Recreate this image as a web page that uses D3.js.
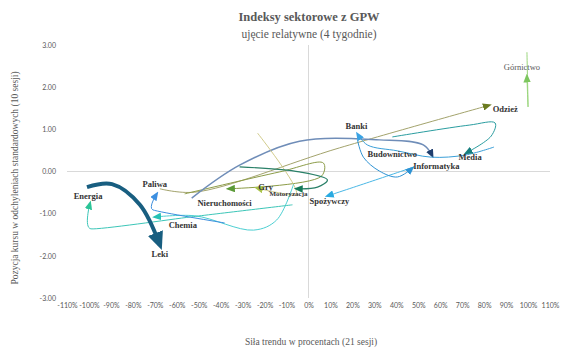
<!DOCTYPE html>
<html lang="pl">
<head>
<meta charset="UTF-8">
<title>Indeksy sektorowe z GPW</title>
<script src="https://d3js.org/d3.v7.min.js"></script>
<style>
  body { margin: 0; background: #fff; }
  svg text { font-family: "Liberation Serif", serif; }
</style>
</head>
<body>
<svg id="chart" width="564" height="352"></svg>
<script>
// sectors, in drawing order
const sectors = ["Odzież", "Nieruchomości", "Budownictwo", "Gry", "Motoryzacja", "Chemia", "Energia",
  "Paliwa", "Spożywczy", "Informatyka", "Banki", "Media", "Górnictwo", "Leki"];

// each point: [trend strength in %, position in std devs], oldest -> newest
const odziez = [[-67.7, -0.41], [-51.8, -0.49], [14.1, 0.56], [82.3, 1.57]];
const nieruchomosci = [[-56.4, -0.53], [-13.2, -0.01], [6.8, 0.20], [5.9, -0.11], [-36.4, -0.41]];
const budownictwo = [[-53.2, -0.63], [-31.4, 0.15], [-4.1, 0.72], [32.3, 0.75], [52.3, 0.63], [56.4, 0.37]];
const gry = [[-23.2, 0.91], [-5.5, -0.53], [-15.0, -0.49], [-23.6, -0.39]];
const motoryzacja = [[-31.4, 0.11], [-4.1, -0.01], [8.6, -0.20], [4.1, -0.37], [-5.5, -0.41]];
const chemia = [[-6.8, -0.30], [-14.5, -1.15], [-25.0, -1.39], [-51.8, -1.05], [-70.0, -1.08]];
const energia = [[-7.3, -0.79], [-54.1, -1.08], [-99.1, -1.36], [-99.5, -0.75]];
const paliwa = [[-38.2, -1.22], [-70.9, -0.91], [-69.1, -0.53]];
const spozywczy = [[48.2, 0.11], [27.7, -0.25], [8.6, -0.58]];
const informatyka = [[22.3, 0.75], [25.0, 0.34], [32.3, 0.01], [40.5, -0.13], [47.3, 0.08]];
const banki = [[84.5, 0.58], [71.4, 0.39], [55.9, 0.34], [40.5, 0.49], [26.8, 0.63], [22.3, 0.89]];
const media = [[38.2, 0.82], [73.2, 1.10], [85.0, 1.15], [83.2, 0.84], [71.8, 0.44]];
const gornictwo = [[99.5, 2.83], [100, 1.53], [99.5, 2.26]];
const leki = [[-100.9, -0.37], [-89.5, -0.30], [-76.8, -0.79], [-67.7, -1.74]];

const xTicks = d3.range(-110, 111, 10);
const yTicks = [-3, -2, -1, 0, 1, 2, 3];

const seriesPoints = [odziez, nieruchomosci, budownictwo, gry, motoryzacja, chemia, energia,
  paliwa, spozywczy, informatyka, banki, media, gornictwo, leki];

// styling
const lineColors = ["#a3a36c", "#8c9c48", "#6f8db8", "#d2cc8c", "#2a8068", "#4ccfd2", "#3cc6b8",
  "#3d8fde", "#4ab8e6", "#2f93d4", "#3a9fd8", "#2a9da0", "#9ad67c", "#185e80"];
const arrowColors = ["#6b7b20", "#5b9a37", "#1f3e6e", "#a9c34a", "#157a5a", "#26c2b5", "#2bc497",
  "#3d8fe0", "#29aae1", "#2f93d4", "#3aa3e4", "#177e7e", "#7dc65f", "#185e80"];
const lineWidths = [1, 1, 1.5, 1, 1.2, 1, 1, 1, 1, 1, 1, 1, 1, 4];
// series with tighter corners
const tightCurve = ["Energia", "Paliwa"];
// label centre relative to the last point
const labelOffsets = [[16, 4], [-4, 14], [-40, -2], [9, -1], [-8, 5], [28, 8], [-2, -7],
  [-2, -10], [2, 5], [24, -2], [-1, -8], [4, 4], [-5, -9], [0, 9]];

const svg = d3.select("#chart");
const x = d3.scaleLinear().domain([-110, 110]).range([67, 550]);
const y = d3.scaleLinear().domain([-3, 3]).range([298, 45]);

// titles
svg.append("text").attr("x", 309).attr("y", 21).attr("text-anchor", "middle")
  .attr("font-size", 12.5).attr("font-weight", "bold").attr("fill", "#595959")
  .text("Indeksy sektorowe z GPW");
svg.append("text").attr("x", 309).attr("y", 38).attr("text-anchor", "middle")
  .attr("font-size", 11.5).attr("fill", "#595959")
  .text("ujęcie relatywne (4 tygodnie)");

// zero lines
svg.append("line").attr("x1", x(-110)).attr("x2", x(110)).attr("y1", y(0)).attr("y2", y(0))
  .attr("stroke", "#d9d9d9").attr("stroke-width", 1);
svg.append("line").attr("x1", x(0)).attr("x2", x(0)).attr("y1", y(3)).attr("y2", y(-3))
  .attr("stroke", "#d9d9d9").attr("stroke-width", 1);

// axes (labels only)
const xAxis = svg.append("g").attr("transform", "translate(0,300)")
  .call(d3.axisBottom(x).tickValues(xTicks).tickFormat(d => d + "%").tickSize(0).tickPadding(3));
const yAxis = svg.append("g").attr("transform", "translate(59,0)")
  .call(d3.axisLeft(y).tickValues(yTicks)
    .tickFormat(d => (d < 0 ? "-" : "") + Math.abs(d).toFixed(2)).tickSize(0).tickPadding(3));
[xAxis, yAxis].forEach(g => {
  g.select(".domain").remove();
  g.selectAll("text").attr("fill", "#595959").style("font-family", "Lato, sans-serif").attr("font-size", 7);
});

svg.append("text").attr("transform", "translate(18,178) rotate(-90)").attr("text-anchor", "middle")
  .attr("font-size", 9.5).attr("fill", "#595959")
  .text("Pozycja kursu w odchyleniach standardowych (10 sesji)");
svg.append("text").attr("x", 311).attr("y", 345).attr("text-anchor", "middle")
  .attr("font-size", 9.5).attr("fill", "#595959")
  .text("Siła trendu w procentach (21 sesji)");

// arrow heads
const defs = svg.append("defs");
seriesPoints.forEach((pts, i) => {
  const L = lineWidths[i] > 2 ? 18 : 9;
  const W = lineWidths[i] > 2 ? 16 : 7.5;
  defs.append("marker").attr("id", "arr" + i)
    .attr("markerUnits", "userSpaceOnUse")
    .attr("viewBox", `0 0 ${L} ${W}`)
    .attr("markerWidth", L).attr("markerHeight", W)
    .attr("refX", L * 0.7).attr("refY", W / 2)
    .attr("orient", "auto")
    .append("path").attr("d", `M0,0L${L},${W / 2}L0,${W}Z`).attr("fill", arrowColors[i]);
});

const smoothLine = d3.line().x(d => x(d[0])).y(d => y(d[1])).curve(d3.curveCatmullRom.alpha(0.5));
const tightLine = d3.line().x(d => x(d[0])).y(d => y(d[1])).curve(d3.curveCardinal.tension(0.55));

svg.append("g").selectAll("path").data(seriesPoints).join("path")
  .attr("d", (d, i) => tightCurve.includes(sectors[i]) ? tightLine(d) : smoothLine(d))
  .attr("fill", "none")
  .attr("stroke", (d, i) => lineColors[i])
  .attr("stroke-width", (d, i) => lineWidths[i])
  .attr("marker-end", (d, i) => "url(#arr" + i + ")");

// labels
svg.append("g").selectAll("text").data(seriesPoints).join("text")
  .attr("x", (d, i) => x(d[d.length - 1][0]) + labelOffsets[i][0])
  .attr("y", (d, i) => y(d[d.length - 1][1]) + labelOffsets[i][1])
  .attr("text-anchor", "middle")
  .attr("dominant-baseline", "central")
  .attr("font-size", (d, i) => sectors[i] === "Motoryzacja" ? 7 : 8.5)
  .attr("font-weight", (d, i) => sectors[i] === "Górnictwo" ? "normal" : "bold")
  .attr("fill", (d, i) => sectors[i] === "Górnictwo" ? "#595959" : "#333")
  .text((d, i) => sectors[i]);
</script>
</body>
</html>
